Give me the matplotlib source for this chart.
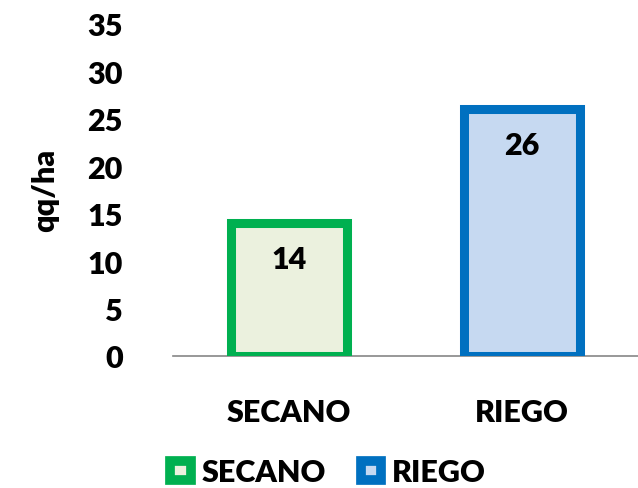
import matplotlib.pyplot as plt
from matplotlib.patches import Patch

plt.rcParams['font.family'] = ['Lato', 'DejaVu Sans']
plt.rcParams['font.weight'] = 'heavy'

# data
categories = ['SECANO', 'RIEGO']
values = [14, 26]
edge_colors = ['#00B050', '#0070C0']
fill_colors = ['#EBF1DE', '#C6D9F1']
y_ticks = [0, 5, 10, 15, 20, 25, 30, 35]
y_label = 'qq/ha'

FS = 22

fig = plt.figure(figsize=(6.38, 4.89), dpi=100)
ax = fig.add_axes([0.271, 0.270, 0.729, 0.679])

x = range(len(categories))
ax.bar(x, values, width=0.50, color=fill_colors, edgecolor=edge_colors,
       linewidth=6.5, zorder=3)

for xi, v in zip(x, values):
    ax.text(xi, v - 3.8, str(v), ha='center', va='center', fontsize=FS,
            color='black', zorder=4)

ax.set_xlim(-0.5, 1.5)
ax.set_ylim(0, 35)
ax.set_yticks(y_ticks)
ax.set_xticks(list(x))
ax.set_xticklabels(categories, fontsize=FS)
ax.tick_params(axis='y', labelsize=FS, length=0, pad=36)
ax.tick_params(axis='x', length=0, pad=30)

for side in ['left', 'right', 'top']:
    ax.spines[side].set_visible(False)
ax.spines['bottom'].set_color('#868686')
ax.spines['bottom'].set_linewidth(1.2)

fig.text(45 / 638, 1 - 190 / 489, y_label, rotation=90, ha='center',
         va='center', fontsize=FS)

handles = [Patch(facecolor=fc, edgecolor=ec, linewidth=7, label=c)
           for c, fc, ec in zip(categories, fill_colors, edge_colors)]
fig.legend(handles=handles, loc='center', bbox_to_anchor=(328 / 638, 1 - 473 / 489),
           ncol=2, frameon=False, handlelength=0.68, handleheight=0.6,
           handletextpad=0.35, columnspacing=1.13, borderpad=0,
           prop={'weight': 'heavy', 'size': FS})

fig.savefig('out.png', dpi=100)
